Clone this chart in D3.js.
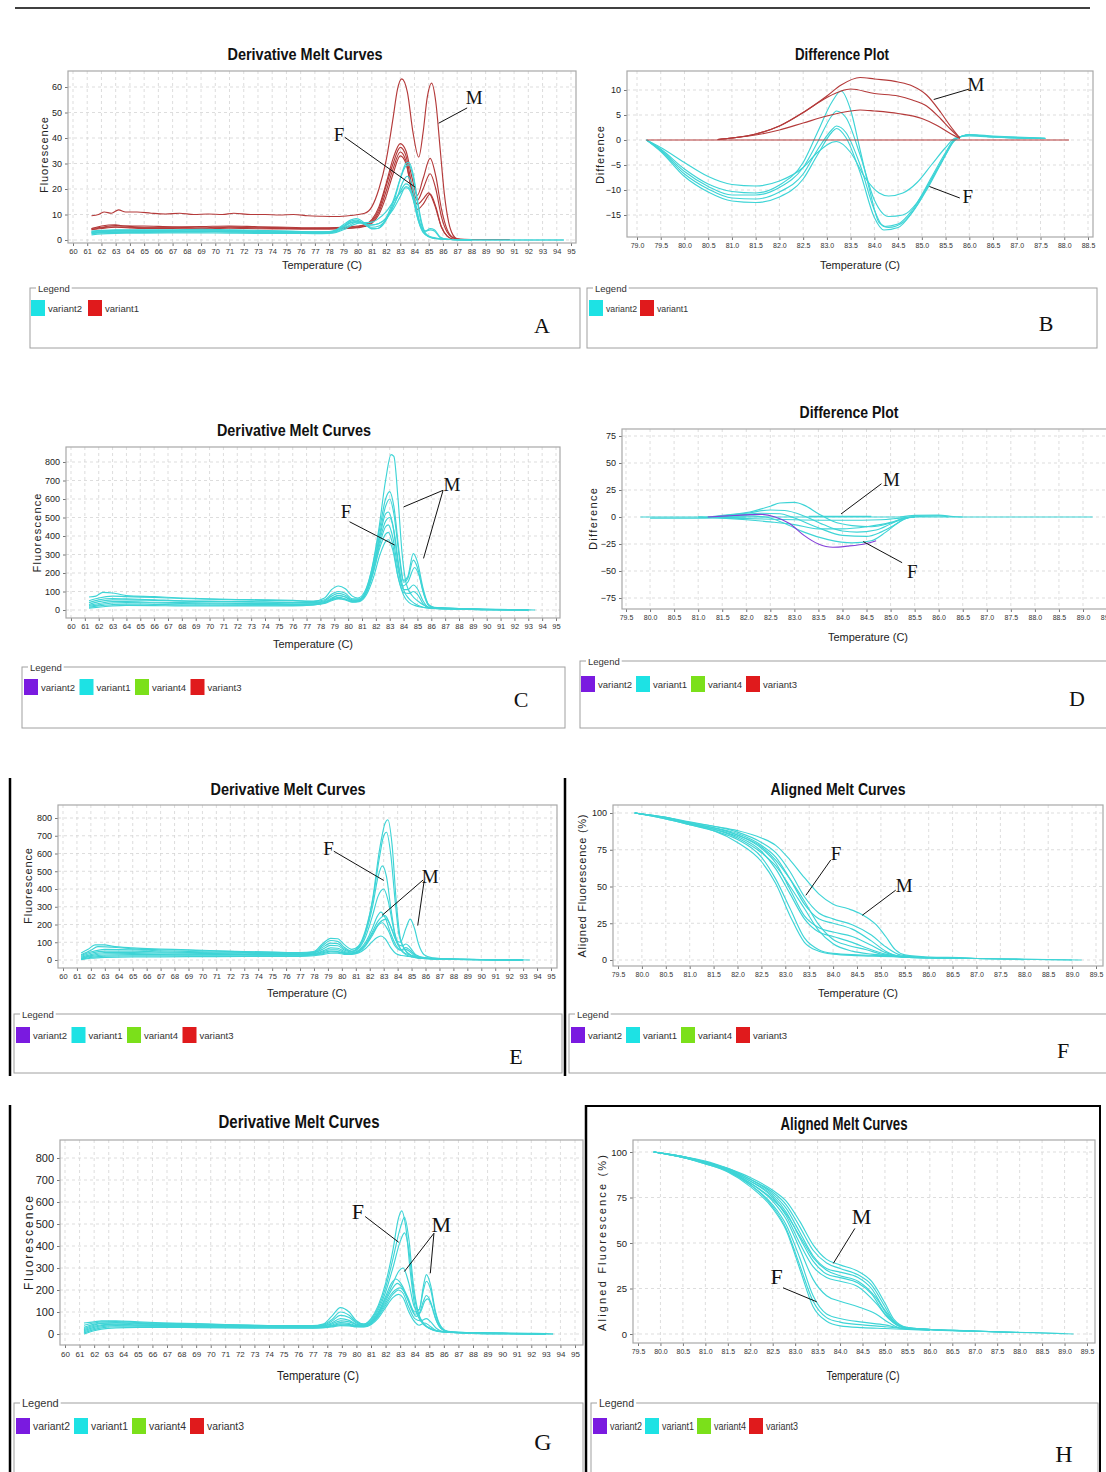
<!DOCTYPE html>
<html><head><meta charset="utf-8">
<script src="https://cdn.jsdelivr.net/npm/d3@7"></script>
<style>body{margin:0;background:#fff}svg{display:block}</style>
</head><body>
<svg id="c" width="1106" height="1472"></svg>
<script>
// ---------------- DATA ----------------
const derivTicks = d3.range(60, 96);
const tempTicksB = d3.range(0, 20).map(i => 79 + i * 0.5);
const tempTicks = d3.range(0, 21).map(i => 79.5 + i * 0.5);
const yTicksA = [0, 10, 20, 30, 40, 50, 60];
const yTicksB = [-15, -10, -5, 0, 5, 10];
const yTicksDeriv = [0, 100, 200, 300, 400, 500, 600, 700, 800];
const yTicksD = [-75, -50, -25, 0, 25, 50, 75];
const yTicksAligned = [0, 25, 50, 75, 100];
const legend2 = ['variant2', 'variant1'];
const legend4 = ['variant2', 'variant1', 'variant4', 'variant3'];

// Panel A – derivative melt curves
const aVariant1 = [
 [[61.3,9.5],[61.8,10],[62.2,11],[62.7,10.5],[63.2,11.8],[63.7,11],[64.5,11],[65.5,10.5],[66.5,10.2],[67.5,10.5],[68.5,10],[69.5,10.2],[70.5,10],[71.3,10.5],[72.5,10],[73.5,10],[74.5,9.8],[75.5,10],[76.5,9.5],[77.5,9.3],[78.5,9.2],[79.5,9.6],[80.5,10.5],[81,13],[81.5,20],[82,31],[82.5,48],[82.8,59],[83.1,63.2],[83.5,58],[83.9,42],[84.3,32.5],[84.6,42],[84.9,56],[85.2,61.5],[85.5,54],[85.8,36],[86.1,18],[86.4,7],[86.7,2],[87,0.5],[88,0.2],[90.7,0.2]],
 [[61.3,4.5],[62,5.5],[63,6],[63.5,5.5],[65,5.5],[67,5.2],[69,5.3],[71,5.5],[73,5.2],[75,5],[77,4.8],[79,5],[80,5.5],[80.5,6],[81,8],[81.5,13],[82,22],[82.5,32],[83,37.8],[83.4,35],[83.8,25],[84.2,17.5],[84.6,24],[85.1,32],[85.5,25],[85.9,12],[86.3,4],[86.7,1],[87.2,0.2]],
 [[61.3,4.5],[62,5],[63,5.7],[65,5],[67,5],[69,4.8],[71,5.2],[73,5],[75,4.8],[77,4.6],[79,4.8],[80,5.2],[80.5,6],[81,7.5],[81.5,12],[82,21],[82.5,30],[83,36.3],[83.4,33],[83.8,22],[84.2,15.5],[84.6,20],[85.1,26],[85.5,20],[85.9,9],[86.3,3],[86.7,0.8],[87.2,0.2]],
 [[61.3,4],[62,4.8],[63,5.2],[65,4.8],[67,4.8],[69,4.6],[71,5],[73,4.7],[75,4.5],[77,4.5],[79,4.6],[80,5],[80.5,5.5],[81,7],[81.5,11],[82,19],[82.5,28],[83,34.5],[83.4,31],[83.8,19],[84.2,12],[84.6,14],[85.1,18],[85.5,13],[85.9,5],[86.3,1.5],[86.7,0.3]],
 [[61.3,4],[62,4.5],[63,5],[65,4.5],[67,4.5],[69,4.3],[71,4.6],[73,4.4],[75,4.3],[77,4.2],[79,4.4],[80,4.8],[80.5,5.3],[81,6.5],[81.5,10],[82,17],[82.5,26],[83,33],[83.4,30],[83.8,20],[84.2,14],[84.6,16],[85,18.5],[85.4,14],[85.9,5],[86.3,1.5],[86.7,0.3]]
];
const aVariant2 = [
 [[61.3,3.5],[62,3.8],[63,4],[65,4],[67,4],[69,4.2],[71,4],[73,3.8],[75,3.5],[77,3.2],[78,3.3],[78.5,4],[79,6],[79.5,7.8],[79.9,8.4],[80.3,7.5],[80.7,5.5],[81,4.5],[81.4,4.5],[81.8,6],[82.2,10],[82.6,16],[83,24],[83.4,30],[83.6,30.5],[83.9,26],[84.2,16],[84.5,7],[84.8,2.5],[85.2,1],[85.7,0.5],[86.5,0.2],[88,0],[94.5,0]],
 [[61.3,3],[62,3.3],[63,3.5],[65,3.5],[67,3.6],[69,3.6],[71,3.5],[73,3.3],[75,3.2],[77,3],[78,3],[78.5,3.8],[79,5.5],[79.5,7.3],[79.9,7.8],[80.3,7],[80.7,5.3],[81,4.3],[81.4,4.5],[81.8,6.5],[82.2,11],[82.6,17],[83,24],[83.4,29],[83.6,29.5],[83.9,25],[84.2,15],[84.5,6],[84.8,2],[85.2,0.8],[86,0.3],[88,0],[94.5,0]],
 [[61.3,2.5],[62,2.8],[63,3],[65,3],[67,3.2],[69,3.2],[71,3.1],[73,3],[75,2.9],[77,2.8],[78,2.9],[78.5,3.5],[79,5],[79.5,6.7],[79.9,7.2],[80.3,6.6],[80.7,5.5],[81,5],[81.5,5.5],[82,8],[82.5,13],[83,19],[83.4,22],[83.6,21.5],[83.9,17],[84.2,10],[84.5,5],[84.8,3.5],[85.1,4],[85.4,3.5],[85.8,1],[86.3,0.3],[88,0]],
 [[61.3,2],[62,2.4],[63,2.6],[65,2.7],[67,2.8],[69,2.8],[71,2.7],[73,2.6],[75,2.6],[77,2.5],[78,2.6],[78.5,3],[79,4],[79.5,5.5],[80,6.5],[80.5,6.8],[81,7],[81.5,8.5],[82,11],[82.5,15],[83,18.5],[83.4,20.5],[83.6,20],[83.9,16],[84.2,9],[84.5,4.5],[84.8,3.5],[85.1,4.5],[85.4,4],[85.8,1.2],[86.3,0.3],[88,0]],
 [[61.3,3.2],[62,3.6],[63,3.8],[65,3.8],[67,3.8],[69,3.9],[71,3.8],[73,3.6],[75,3.4],[77,3.2],[78,3.2],[78.5,3.8],[79,5.2],[79.5,6.8],[80,7.2],[80.5,6.5],[81,6],[81.5,6.5],[82,8.5],[82.5,12],[83,17],[83.4,21],[83.7,20],[84,14],[84.3,7],[84.6,3],[85,1.5],[85.5,0.8],[86.5,0.2],[88,0]],
 [[61.3,2.8],[62,3],[63,3.2],[65,3.3],[67,3.3],[69,3.4],[71,3.3],[73,3.2],[75,3],[77,2.9],[78,2.9],[78.5,3.3],[79,4.5],[79.5,6],[79.9,7],[80.3,6.8],[80.8,5.8],[81.2,6],[81.8,7.5],[82.3,11],[82.8,17],[83.2,23],[83.5,25],[83.8,22],[84.1,14],[84.4,6],[84.8,2],[85.3,0.8],[86,0.3],[88,0]]
];

// Panel B – difference plot
const bVariant1 = [
 [[79.2,0],[88.1,0]],
 [[80.7,0.1],[81,0.4],[81.5,1.2],[82,2.8],[82.5,5.5],[83,8.8],[83.3,11],[83.7,12.5],[84,12.2],[84.5,11.6],[84.8,10.8],[85.1,9],[85.4,5.5],[85.6,2.8],[85.8,0.4]],
 [[80.7,0.1],[81,0.4],[81.5,1.2],[82,2.8],[82.5,5.5],[83,8.5],[83.3,9.8],[83.5,10.2],[84,9.3],[84.5,8.8],[84.8,8],[85.1,6.8],[85.4,4.2],[85.6,2.2],[85.8,0.4]],
 [[80.7,0.1],[81,0.4],[81.5,1],[82,2],[82.5,3.4],[83,4.8],[83.5,5.8],[83.7,6],[84,5.8],[84.5,5.3],[85,4.3],[85.3,3],[85.6,1.3],[85.8,0.3]]
];
const bVariant2 = [
 [[79.2,0],[79.5,-1.5],[80,-4.5],[80.5,-7.3],[81,-8.9],[81.5,-9.2],[82,-8.2],[82.5,-5.5],[82.8,-2.5],[83.2,-0.3],[83.5,-2.5],[83.8,-7.5],[84.1,-10.6],[84.3,-11.2],[84.6,-10.6],[84.9,-8.5],[85.2,-5],[85.5,-1.5],[85.7,0.4],[86,0.8],[86.5,0.6],[87,0.4],[87.6,0.3]],
 [[79.2,0],[79.5,-1.8],[80,-5.8],[80.5,-8.8],[81,-10.3],[81.5,-10.6],[82,-9],[82.5,-4.5],[82.8,1.5],[83.1,7.5],[83.3,9.8],[83.5,6],[83.7,-2],[83.9,-10],[84.1,-16.5],[84.3,-17.5],[84.6,-16.5],[84.9,-13],[85.2,-8],[85.5,-3],[85.7,0],[86,1.1],[86.5,0.8],[87.6,0.4]],
 [[79.2,0],[79.5,-2],[80,-6.3],[80.5,-9.3],[81,-11],[81.5,-11],[82,-9.5],[82.5,-5.5],[82.8,-0.5],[83.1,4.8],[83.2,5.8],[83.4,4.5],[83.7,-3],[84,-12],[84.3,-15.3],[84.6,-15],[84.9,-12.5],[85.2,-7.5],[85.5,-2.5],[85.7,0.2],[86,1],[86.5,0.7],[87.6,0.3]],
 [[79.2,0],[79.5,-2.1],[80,-6.8],[80.5,-9.8],[81,-11.6],[81.5,-11.8],[82,-10.4],[82.5,-6.8],[82.8,-2],[83.1,2],[83.2,2.8],[83.4,1.5],[83.7,-5],[84,-14],[84.2,-17.3],[84.5,-16.8],[84.8,-14],[85.1,-9.5],[85.4,-4.5],[85.7,0.2],[86,1],[86.5,0.6],[87.6,0.3]],
 [[79.2,0],[79.5,-2.3],[80,-7.3],[80.5,-10.4],[81,-12.2],[81.5,-12.5],[82,-11.4],[82.5,-7.8],[82.8,-3],[83.1,1.5],[83.2,2.3],[83.4,0.5],[83.7,-6.5],[84,-15.5],[84.2,-18],[84.5,-17.5],[84.8,-14.5],[85.1,-10],[85.4,-4.8],[85.7,0],[86,1],[86.5,0.6],[87.6,0.3]]
];

// Panel C – derivative melt curves
const cVariant1 = [
 [[61.3,70],[61.8,75],[62.3,95],[63,92],[63.5,85],[64,78],[66,72],[68,65],[70,60],[72,57],[74,55],[76,52],[77.5,48],[78.3,65],[78.8,110],[79.3,130],[79.8,115],[80.3,75],[80.7,65],[81.2,100],[81.7,220],[82.2,430],[82.7,700],[83.1,840],[83.3,830],[83.6,600],[83.9,300],[84.2,140],[84.6,80],[85,50],[85.5,25],[86,12],[87,10],[88,8],[89,6],[90,3],[92,2],[93.5,0]],
 [[61.3,50],[62,65],[63,75],[64,72],[66,68],[68,62],[70,58],[72,55],[74,52],[76,50],[77.5,45],[78.3,55],[78.8,85],[79.3,100],[79.8,90],[80.3,60],[80.8,60],[81.3,110],[81.8,250],[82.3,450],[82.7,600],[83,640],[83.3,560],[83.7,300],[84,160],[84.3,180],[84.7,305],[85,260],[85.4,120],[85.8,30],[86.2,15],[87,12],[88,8],[90,3],[93,1]],
 [[61.3,40],[62,55],[63,62],[64,60],[66,55],[68,50],[70,48],[72,46],[74,44],[76,42],[77.5,40],[78.3,50],[78.8,75],[79.3,90],[79.8,80],[80.3,55],[80.8,55],[81.3,100],[81.8,230],[82.3,420],[82.7,560],[83,600],[83.3,520],[83.7,280],[84,150],[84.3,170],[84.7,270],[85,230],[85.4,100],[85.8,25],[86.3,12],[88,7],[90,3],[93,1]],
 [[61.3,30],[62,45],[63,55],[64,55],[66,52],[68,48],[70,45],[72,43],[74,42],[76,40],[77.5,38],[78.3,45],[78.8,65],[79.3,78],[79.8,70],[80.3,50],[80.8,50],[81.3,95],[81.8,220],[82.3,400],[82.7,520],[82.9,530],[83.2,470],[83.6,250],[83.9,130],[84.3,150],[84.8,230],[85.1,190],[85.5,80],[85.9,20],[86.4,10],[88,6],[90,2],[93,1]],
 [[61.3,25],[62,35],[63,45],[64,45],[66,42],[68,40],[70,38],[72,36],[74,35],[76,34],[77.5,33],[78.3,40],[78.8,58],[79.3,68],[79.8,60],[80.3,45],[80.8,48],[81.3,90],[81.8,200],[82.3,360],[82.7,450],[82.9,460],[83.2,400],[83.6,220],[84,110],[84.3,110],[84.7,135],[85,115],[85.4,50],[85.8,15],[86.5,8],[88,5],[90,2],[93,1]],
 [[61.3,15],[62,22],[63,30],[64,32],[66,30],[68,28],[70,27],[72,26],[74,26],[76,25],[77.5,28],[78.3,35],[78.8,50],[79.3,60],[79.8,55],[80.3,42],[80.8,45],[81.3,80],[81.8,170],[82.3,300],[82.7,370],[82.9,380],[83.2,330],[83.6,180],[84,95],[84.4,90],[84.7,100],[85,85],[85.4,35],[85.8,12],[86.5,7],[88,4],[90,2],[93,0]],
 [[61.3,20],[62,28],[63,38],[64,40],[66,38],[68,35],[70,33],[72,31],[74,30],[76,30],[77.5,32],[78.3,40],[78.8,55],[79.3,62],[79.8,57],[80.3,45],[80.8,50],[81.3,95],[81.8,210],[82.3,380],[82.7,480],[83,500],[83.3,430],[83.7,220],[84,110],[84.4,60],[84.8,35],[85.2,20],[85.8,10],[87,7],[89,4],[91,2],[93,0]],
 [[61.3,10],[62,15],[63,22],[64,25],[66,24],[68,22],[70,22],[72,22],[74,22],[76,22],[77.5,28],[78.3,38],[78.8,60],[79.3,80],[79.8,70],[80.3,50],[80.8,55],[81.3,100],[81.8,200],[82.3,340],[82.7,410],[82.9,420],[83.2,360],[83.6,180],[84,80],[84.4,40],[84.8,25],[85.3,15],[86,10],[88,6],[90,2],[93,0]]
];

// Panel D – difference plot
const dVariant1 = [
 [[79.8,0],[89.2,0]],
 [[80,-1],[81,-1],[81.6,-0.6],[82,0]],
 [[81.2,0],[81.5,1.5],[82,4],[82.5,10],[82.7,13],[83,13.5],[83.2,11],[83.5,3],[83.8,-4],[84.2,-8],[84.6,-9],[85,-5.5],[85.3,-1],[85.6,0.5],[86,1],[86.2,0]],
 [[81.3,0],[81.7,2],[82,3.5],[82.5,6.5],[82.8,6],[83.2,1],[83.6,-7],[84,-13],[84.3,-14],[84.7,-12],[85,-6.5],[85.3,-1],[85.5,0]],
 [[81.3,0],[81.8,1.5],[82.3,3.5],[82.7,3],[83,-1],[83.5,-10],[84,-17],[84.5,-18],[84.8,-14],[85.1,-7],[85.3,-1.5],[85.5,0]],
 [[81.5,0],[82,1],[82.4,0],[82.8,-6],[83.2,-14],[83.7,-21],[84.2,-24],[84.6,-22],[84.9,-14],[85.2,-4],[85.4,0]],
 [[81,0],[81.5,-1],[82,-2.5],[82.5,-4.5],[83,-7],[83.5,-11],[84,-11],[84.5,-9],[85,-5],[85.3,-1],[85.5,0]],
 [[81,0],[82,-1.5],[83,-2.5],[84,-3],[84.8,-2.5],[85.2,-1],[85.5,0]],
 [[83.3,0.6],[84.6,0.6]],
 [[85.2,0],[85.5,1.5],[86,1.8],[86.3,0.5],[86.5,0]]
];
const dVariant2 = [
 [[81.2,0],[81.6,1],[82,2],[82.3,2.5],[82.6,0],[82.9,-6],[83.2,-17],[83.5,-25],[83.8,-28],[84.1,-27],[84.5,-24.5],[84.7,-22]]
];

// Panel E – derivative melt curves
const eVariant1 = [
 [[61.3,40],[61.8,60],[62.3,85],[63,85],[63.5,78],[65,68],[67,62],[69,58],[71,52],[73,48],[75,45],[77,42],[78,48],[78.6,90],[79.2,122],[79.7,120],[80.2,85],[80.7,60],[81.2,80],[81.7,170],[82.2,340],[82.7,620],[83.1,770],[83.3,790],[83.6,650],[83.9,330],[84.2,120],[84.6,50],[85,25],[85.5,12],[86.5,8],[88,4],[90,3],[92,2],[93.5,0]],
 [[61.3,30],[62,55],[62.5,75],[63.5,72],[65,63],[67,58],[69,55],[71,50],[73,46],[75,43],[77,40],[78,45],[78.6,80],[79.2,110],[79.7,105],[80.2,70],[80.7,50],[81.2,75],[81.7,160],[82.2,330],[82.7,580],[83,700],[83.2,720],[83.5,600],[83.8,350],[84.1,140],[84.5,60],[85,25],[85.5,12],[87,6],[90,2],[93,0]],
 [[61.3,25],[62,45],[63,60],[65,58],[67,52],[69,48],[71,45],[73,42],[75,40],[77,38],[78,42],[78.6,70],[79.2,95],[79.7,92],[80.2,62],[80.7,48],[81.2,70],[81.7,150],[82.2,300],[82.6,470],[82.9,530],[83.2,470],[83.5,300],[83.8,150],[84.2,60],[84.6,30],[85.2,15],[86,8],[88,4],[91,2],[93,0]],
 [[61.3,20],[62,38],[63,50],[65,50],[67,46],[69,43],[71,40],[73,38],[75,36],[77,35],[78,40],[78.6,60],[79.2,82],[79.7,80],[80.2,55],[80.7,45],[81.2,65],[81.7,130],[82.2,250],[82.6,360],[83,400],[83.3,340],[83.7,180],[84,90],[84.3,80],[84.6,90],[84.9,70],[85.3,30],[86,12],[88,5],[91,2],[93,0]],
 [[61.3,15],[62,30],[63,42],[65,42],[67,40],[69,38],[71,36],[73,34],[75,33],[77,32],[78,36],[78.6,50],[79.2,68],[79.7,66],[80.2,48],[80.7,40],[81.2,55],[81.7,100],[82.2,180],[82.5,240],[82.8,270],[83.1,240],[83.5,150],[83.9,80],[84.3,55],[84.6,60],[84.9,45],[85.3,20],[86,10],[88,4],[91,1],[93,0]],
 [[61.3,10],[62,25],[63,35],[65,36],[67,34],[69,33],[71,32],[73,31],[75,30],[77,30],[78,33],[78.6,45],[79.2,58],[79.7,57],[80.2,42],[80.7,38],[81.2,50],[81.7,90],[82.2,160],[82.6,220],[83.1,250],[83.5,190],[83.9,110],[84.2,100],[84.6,180],[84.9,230],[85.2,180],[85.5,90],[85.9,30],[86.5,12],[88,5],[91,1],[93,0]],
 [[61.3,8],[62,20],[63,28],[65,30],[67,30],[69,29],[71,28],[73,28],[75,27],[77,27],[78,30],[78.6,40],[79.2,50],[79.7,48],[80.2,38],[80.7,35],[81.2,48],[81.7,85],[82.2,150],[82.7,210],[83.2,230],[83.6,170],[84,90],[84.4,45],[84.8,30],[85.3,20],[86,10],[88,4],[91,1],[93,0]],
 [[61.3,5],[62,15],[63,22],[65,24],[67,24],[69,24],[71,24],[73,24],[75,24],[77,24],[78,28],[78.6,35],[79.2,45],[79.7,44],[80.2,36],[80.7,34],[81.2,45],[81.7,80],[82.2,140],[82.6,195],[82.9,210],[83.3,170],[83.8,80],[84.2,55],[84.6,70],[84.9,55],[85.3,25],[86,10],[88,3],[91,1],[93,0]],
 [[61.3,2],[62,10],[63,15],[65,18],[67,18],[69,19],[71,19],[73,20],[75,20],[77,20],[78,24],[78.6,30],[79.2,38],[79.7,38],[80.2,32],[80.7,32],[81.2,40],[81.7,65],[82.2,105],[82.5,125],[82.8,135],[83.1,120],[83.5,70],[83.9,35],[84.3,25],[84.8,20],[85.5,12],[86.5,6],[88,3],[91,1],[93,0]]
];

// Panel F – aligned melt curves
const fVariant1 = [
 [[79.85,100],[80.5,97],[81,94],[81.5,91],[82,88],[82.5,83],[82.8,78],[83.1,68],[83.4,56],[83.7,45],[84,38],[84.3,35],[84.6,31],[84.9,24],[85.1,16],[85.3,7],[85.5,3.5],[86,2],[86.8,1.5],[87,1],[88,0.5],[89.2,0]],
 [[79.85,100],[80.5,97],[81,93.5],[81.5,91],[82,87],[82.5,80],[82.8,73],[83.1,60],[83.4,43],[83.7,32],[84,28],[84.4,24],[84.8,17],[85.1,9],[85.4,3.5],[86,1.5],[87,1],[88,0.5],[89,0]],
 [[79.85,100],[80.5,97],[81,93],[81.5,90],[82,86],[82.5,78],[82.8,70],[83.1,55],[83.4,38],[83.7,28],[84,25],[84.4,21],[84.8,13],[85.1,6],[85.4,2.5],[86,1.5],[87,1],[88,0.3]],
 [[79.85,100],[80.5,96.5],[81,93],[81.5,90],[82,85],[82.5,76],[82.8,66],[83.1,48],[83.4,30],[83.7,22],[84,19],[84.4,16],[84.8,10],[85.1,5],[85.4,2.5],[86,1.5],[87,1]],
 [[79.85,100],[80.5,96.5],[81,92.5],[81.5,89],[82,84],[82.5,74],[82.8,62],[83.1,45],[83.4,28],[83.7,19],[84,16],[84.4,12],[84.8,7],[85.1,4],[85.5,2],[86,1.5]],
 [[79.85,100],[80.5,96],[81,92],[81.5,88],[82,82],[82.5,70],[82.8,55],[83.1,35],[83.4,15],[83.7,7],[84,4.5],[84.5,3.5],[85,3],[85.5,2],[86.5,1]],
 [[79.85,100],[80.5,96],[81,92],[81.5,88],[82,80],[82.5,67],[82.8,52],[83.1,30],[83.4,12],[83.7,6],[84,4],[84.5,3],[85,2.5],[85.5,2]],
 [[79.85,100],[80.5,96.5],[81,92.5],[81.5,89],[82,83],[82.5,73],[82.8,64],[83.1,50],[83.4,35],[83.7,20],[84,11],[84.4,6],[84.8,4],[85.2,3],[85.6,2]],
 [[79.85,100],[80.5,96.5],[81,93],[81.5,90],[82,85],[82.5,77],[82.8,68],[83.1,55],[83.4,40],[83.7,24],[84,14],[84.3,10],[84.7,7],[85,4],[85.4,2.5],[86,1.5]]
];

// Panel G – derivative melt curves
const gVariant1 = [
 [[61.3,50],[62,55],[62.5,60],[63.5,60],[65,55],[67,50],[69,47],[71,43],[73,40],[75,38],[77,38],[77.7,45],[78.3,80],[78.9,120],[79.5,100],[80,60],[80.5,45],[81,70],[81.5,130],[82,230],[82.5,380],[82.9,530],[83.1,560],[83.4,480],[83.7,280],[84,130],[84.4,60],[85,25],[85.7,12],[87,8],[89,4],[91,3],[93,2],[93.5,0]],
 [[61.3,40],[62,50],[62.5,55],[63.5,57],[65,52],[67,48],[69,45],[71,42],[73,39],[75,37],[77,37],[77.7,42],[78.3,65],[78.9,100],[79.5,85],[80,55],[80.5,45],[81,65],[81.5,120],[82,210],[82.5,340],[83,480],[83.3,530],[83.6,430],[83.9,230],[84.2,110],[84.6,50],[85.2,22],[86,10],[88,6],[91,3],[93.5,0]],
 [[61.3,30],[62,45],[62.5,50],[63.5,52],[65,48],[67,45],[69,42],[71,40],[73,37],[75,35],[77,35],[77.7,40],[78.3,58],[78.9,85],[79.5,75],[80,50],[80.5,42],[81,60],[81.5,110],[82,190],[82.5,300],[83,420],[83.3,460],[83.6,380],[83.9,200],[84.2,100],[84.6,45],[85.2,20],[86,9],[88,5],[91,2],[93,0]],
 [[61.3,25],[62,40],[62.5,48],[63.5,50],[65,46],[67,43],[69,40],[71,38],[73,36],[75,34],[77,34],[77.7,38],[78.3,50],[78.9,70],[79.5,62],[80,45],[80.5,40],[81,55],[81.5,95],[82,160],[82.5,230],[82.9,285],[83.2,300],[83.6,230],[84,120],[84.3,110],[84.6,220],[84.8,270],[85.1,220],[85.4,110],[85.8,35],[86.3,12],[88,5],[91,2],[93,0]],
 [[61.3,20],[62,35],[62.5,42],[63.5,45],[65,42],[67,40],[69,38],[71,36],[73,34],[75,33],[77,32],[77.7,36],[78.3,45],[78.9,60],[79.5,55],[80,42],[80.5,38],[81,55],[81.5,100],[82,170],[82.4,230],[82.7,250],[83,235],[83.5,170],[84,100],[84.3,110],[84.6,200],[84.8,240],[85.1,200],[85.4,100],[85.8,30],[86.3,10],[88,4],[91,2],[93,0]],
 [[61.3,15],[62,30],[62.5,38],[63.5,42],[65,40],[67,38],[69,36],[71,34],[73,32],[75,31],[77,30],[77.7,33],[78.3,40],[78.9,52],[79.5,48],[80,38],[80.5,36],[81,50],[81.5,90],[82,150],[82.5,210],[82.8,230],[83.1,215],[83.5,160],[84,90],[84.3,95],[84.6,150],[84.8,175],[85.1,145],[85.4,75],[85.8,25],[86.3,10],[88,4],[91,1],[93,0]],
 [[61.3,10],[62,25],[62.5,33],[63.5,38],[65,37],[67,35],[69,34],[71,32],[73,31],[75,30],[77,29],[77.7,31],[78.3,37],[78.9,46],[79.5,44],[80,36],[80.5,35],[81,48],[81.5,85],[82,140],[82.5,190],[83,210],[83.3,190],[83.7,130],[84.1,80],[84.4,100],[84.7,150],[84.9,160],[85.2,120],[85.5,60],[85.9,20],[86.5,8],[88,3],[91,1],[93,0]],
 [[61.3,5],[62,20],[62.5,28],[63.5,33],[65,33],[67,32],[69,31],[71,30],[73,29],[75,28],[77,28],[77.7,30],[78.3,35],[78.9,42],[79.5,40],[80,34],[80.5,33],[81,45],[81.5,80],[82,130],[82.5,180],[82.9,200],[83.2,185],[83.6,120],[84,70],[84.4,60],[84.8,70],[85.1,55],[85.5,25],[86,10],[88,3],[91,1],[93,0]],
 [[61.3,0],[62,15],[62.5,22],[63.5,28],[65,30],[67,30],[69,29],[71,28],[73,27],[75,26],[77,26],[77.7,28],[78.3,32],[78.9,38],[79.5,37],[80,32],[80.5,32],[81,42],[81.5,72],[82,120],[82.5,165],[82.9,180],[83.2,165],[83.6,100],[84,55],[84.3,40],[84.7,50],[85,38],[85.4,18],[86,8],[88,3],[91,1],[93,0]]
];

// Panel H – aligned melt curves
const hVariant1 = [
 [[79.85,100],[80.5,97.5],[81,95],[81.5,91],[82,86],[82.5,79],[82.8,73],[83.1,62],[83.4,49],[83.7,41],[84,38],[84.4,34.5],[84.7,29],[85,17],[85.2,8],[85.5,3.5],[86,2.5],[86.9,1.8],[87.5,1.2],[88.3,0.8],[89.2,0]],
 [[79.85,100],[80.5,97.5],[81,94.5],[81.5,91],[82,85],[82.5,78],[82.8,71],[83.1,59],[83.4,46],[83.7,39],[84,36],[84.4,32.5],[84.7,27],[85,15],[85.2,7],[85.5,3],[86,2.2],[87,1.5],[88,0.8],[89,0.2]],
 [[79.85,100],[80.5,97.5],[81,94.5],[81.5,90.5],[82,85],[82.5,77],[82.8,69],[83.1,56],[83.4,43],[83.7,36],[84,34],[84.4,31],[84.7,25],[85,13],[85.3,5],[85.6,3],[86.5,2],[88,0.8]],
 [[79.85,100],[80.5,97.5],[81,94.5],[81.5,90.5],[82,84],[82.5,76],[82.8,67],[83.1,53],[83.4,40],[83.7,33],[84,31],[84.4,28],[84.7,22],[85,11],[85.3,4.5],[85.6,3],[86.5,2],[88,0.8]],
 [[79.85,100],[80.5,97.5],[81,94],[81.5,90],[82,84],[82.5,75],[82.8,65],[83.1,50],[83.4,37],[83.7,31],[84,29],[84.4,26],[84.8,17],[85.1,8],[85.4,3.5],[86,2.5],[87,1.5]],
 [[79.85,100],[80.5,97],[81,94],[81.5,90],[82,83],[82.5,73],[82.8,63],[83.1,47],[83.4,30],[83.7,21],[84,18],[84.4,15],[84.8,11],[85.1,6],[85.4,3],[86,2.5],[87,1.5]],
 [[79.85,100],[80.5,97],[81,94],[81.5,89.5],[82,82],[82.5,71],[82.8,60],[83.1,42],[83.4,21],[83.7,11],[84,8.5],[84.5,6.5],[85,5],[85.4,3],[86,2.5]],
 [[79.85,100],[80.5,97],[81,93.5],[81.5,89.5],[82,82],[82.5,70],[82.8,58],[83.1,38],[83.4,18],[83.7,9],[84,6.5],[84.5,5],[85,4],[85.4,3],[86,2.2]],
 [[79.85,100],[80.5,97],[81,93.5],[81.5,89],[82,81],[82.5,69],[82.8,57],[83.1,36],[83.4,15],[83.7,7],[84,4.5],[84.5,3.5],[85,3],[85.5,2.5],[86,2]],
 [[79.85,100],[80.5,97],[81,94],[81.5,90],[82,83],[82.5,74],[82.8,66],[83.1,54],[83.4,42],[83.7,35],[84,32],[84.4,29],[84.8,20],[85.1,9],[85.4,4],[86,2.5]]
];

// Annotations (label position and pointer lines in data units)
const notesA = [{t:'M',x:88.2,y:55.7,lines:[[87.7,51.8,85.7,45.8]]},{t:'F',x:78.7,y:41.5,lines:[[79.1,40.3,84.05,20.7]]}];
const notesB = [{t:'M',x:86.14,y:11.1,lines:[[86.0,10.2,85.25,8.1]]},{t:'F',x:85.97,y:-11.3,lines:[[85.8,-11.6,85.16,-9.3]]}];
const notesC = [{t:'M',x:87.5,y:680,lines:[[86.85,647,84.0,557],[86.85,647,85.44,279]]},{t:'F',x:79.84,y:530,lines:[[80.1,477,83.36,351]]}];
const notesD = [{t:'M',x:85.02,y:34.9,lines:[[84.81,30.8,83.97,2.8]]},{t:'F',x:85.45,y:-50,lines:[[85.24,-42.3,84.43,-22.7]]}];
const notesE = [{t:'F',x:79.04,y:627,lines:[[79.42,613,83.01,448]]},{t:'M',x:86.34,y:470,lines:[[85.83,451,82.88,251],[85.9,445,85.44,194]]}];
const notesF = [{t:'F',x:84.06,y:72.6,lines:[[83.95,68,83.43,44]]},{t:'M',x:85.49,y:50.9,lines:[[85.31,47.5,84.61,30.4]]}];
const notesG = [{t:'F',x:80.1,y:557,lines:[[80.6,534,82.9,417]]},{t:'M',x:85.83,y:496,lines:[[85.32,458,83.29,284],[85.32,458,85.07,276]]}];
const notesH = [{t:'M',x:84.48,y:64.4,lines:[[84.33,58,83.85,38.8]]},{t:'F',x:82.59,y:31.4,lines:[[82.73,25.4,83.48,17.7]]}];

// ---------------- STYLE / LAYOUT ----------------
const CYAN = '#3ed4d6', RED = '#b43a3a', PURPLE = '#8440d8';
const SW = {variant1:'#e01a1c', variant2:'#1de2e4', variant3:'#e01a1c', variant4:'#7be01a'};
const SW4 = {variant2:'#7a1ae0', variant1:'#1de2e4', variant4:'#7be01a', variant3:'#e01a1c'};
const SANS = "'Liberation Sans', Arial, sans-serif";
const NARROW = "'Liberation Sans Narrow', 'Arial Narrow', 'Liberation Sans', sans-serif";
const SERIF = "'Liberation Serif', 'Times New Roman', serif";

const panels = [
 {id:'A', title:'Derivative Melt Curves', tt:[305,60,155,16], frame:[68,71,576,243], xa:[60,73,95,571], ya:[0,240,60,87],
  xt:derivTicks, yt:yTicksA, xf:d3.format('d'), xl:[322,269,'Temperature (C)',80,11], yl:[44,155,'Fluorescence',76,11], fs:[7.5,9], ns:19,
  series:[[aVariant1,RED],[aVariant2,CYAN]], notes:notesA,
  leg:{box:[30,288,580,348], x0:31, y:300, pitch:57, items:legend2, colors:SW, fs:9.5, tl:34, letter:'A', lp:[542,333], ls:22}},
 {id:'B', title:'Difference Plot', tt:[842,60,94,16], frame:[627,71,1093,237], xa:[79,637,88.5,1088], ya:[0,140,10,90],
  xt:tempTicksB, yt:yTicksB, xf:d3.format('.1f'), xl:[860,269,'Temperature (C)',80,11], yl:[600,155,'Difference',58,11], fs:[7,9], ns:19,
  series:[[bVariant2,CYAN],[bVariant1,RED]], notes:notesB,
  leg:{box:[587,288,1097,348], x0:589, y:300, pitch:51, items:legend2, colors:SW, fs:9.5, tl:31, letter:'B', lp:[1046,331], ls:22}},
 {id:'C', title:'Derivative Melt Curves', tt:[294,436,154,16], frame:[66,447,560,618], xa:[60,71,95,556], ya:[0,610,800,462],
  xt:derivTicks, yt:yTicksDeriv, xf:d3.format('d'), xl:[313,648,'Temperature (C)',80,11], yl:[37,533,'Fluorescence',79,11], fs:[7.5,9], ns:19,
  series:[[cVariant1,CYAN]], notes:notesC,
  leg:{box:[22,667,565,728], x0:24, y:679, pitch:55.5, items:legend4, colors:SW4, fs:9.5, tl:34, letter:'C', lp:[521,707], ls:22}},
 {id:'D', title:'Difference Plot', tt:[849,418,99,16], frame:[622,429,1125,609], xa:[79.5,626,89,1083], ya:[0,517,75,436],
  xt:tempTicks, yt:yTicksD, xf:d3.format('.1f'), xl:[868,641,'Temperature (C)',80,11], yl:[593,519,'Difference',62,11], fs:[7,9], ns:19,
  series:[[dVariant1,CYAN],[dVariant2,PURPLE]], notes:notesD,
  leg:{box:[580,661,1115,728], x0:581, y:676, pitch:55, items:legend4, colors:SW4, fs:9.5, tl:34, letter:'D', lp:[1077,706], ls:22}},
 {id:'E', title:'Derivative Melt Curves', tt:[288,795,155,16], frame:[58,805,557,968], xa:[60,63,95,551], ya:[0,960,800,818],
  xt:derivTicks, yt:yTicksDeriv, xf:d3.format('d'), xl:[307,997,'Temperature (C)',80,11], yl:[28,886,'Fluorescence',76,11], fs:[7.5,9], ns:19,
  series:[[eVariant1,CYAN]], notes:notesE,
  leg:{box:[14,1014,562,1073], x0:16, y:1027, pitch:55.5, items:legend4, colors:SW4, fs:9.5, tl:34, letter:'E', lp:[516,1064], ls:22}},
 {id:'F', title:'Aligned Melt Curves', tt:[838,795,135,16], frame:[613,805,1103,966], xa:[79.5,618,89.5,1096], ya:[0,960,100,813],
  xt:tempTicks, yt:yTicksAligned, xf:d3.format('.1f'), xl:[858,997,'Temperature (C)',80,11], yl:[582,886,'Aligned Fluorescence (%)',143,11], fs:[7,9], ns:19,
  series:[[fVariant1,CYAN]], notes:notesF,
  leg:{box:[569,1014,1115,1073], x0:571, y:1027, pitch:55, items:legend4, colors:SW4, fs:9.5, tl:34, letter:'F', lp:[1063,1058], ls:22}},
 {id:'G', title:'Derivative Melt Curves', tt:[299,1128,161,19], frame:[60,1140,583,1345], xa:[60,65,95,575], ya:[0,1334,800,1158],
  xt:derivTicks, yt:yTicksDeriv, xf:d3.format('d'), xl:[318,1380,'Temperature (C)',82,13], yl:[29,1243,'Fluorescence',94,12], fs:[8,11], ns:22,
  series:[[gVariant1,CYAN]], notes:notesG,
  leg:{box:[14,1403,583,1490], x0:16, y:1418, pitch:58, items:legend4, colors:SW4, fs:11, tl:37, letter:'G', lp:[543,1450], ls:24}},
 {id:'H', title:'Aligned Melt Curves', tt:[844,1130,127,19], frame:[633,1140,1095,1343], xa:[79.5,638,89.5,1087], ya:[0,1334,100,1152],
  xt:tempTicks, yt:yTicksAligned, xf:d3.format('.1f'), xl:[863,1380,'Temperature (C)',73,13], yl:[602,1243,'Aligned Fluorescence (%)',176,11], fs:[7,9.5], ns:22,
  series:[[hVariant1,CYAN]], notes:notesH,
  leg:{box:[591,1403,1098,1490], x0:593, y:1418, pitch:52, items:legend4, colors:SW4, fs:10.5, tl:32, letter:'H', lp:[1064,1462], ls:24}}
];

// ---------------- DRAW ----------------
const svg = d3.select('#c');
svg.append('rect').attr('width',1106).attr('height',1472).attr('fill','#fff');

function drawPanel(p) {
  const g = svg.append('g');
  const [fx0, fy0, fx1, fy1] = p.frame;
  const x = d3.scaleLinear().domain([p.xa[0], p.xa[2]]).range([p.xa[1], p.xa[3]]);
  const y = d3.scaleLinear().domain([p.ya[0], p.ya[2]]).range([p.ya[1], p.ya[3]]);

  g.append('text').attr('x', p.tt[0]).attr('y', p.tt[1]).attr('text-anchor','middle')
    .attr('font-family', SANS).attr('font-weight','bold').attr('font-size', p.tt[3])
    .attr('textLength', p.tt[2]).attr('lengthAdjust','spacingAndGlyphs').attr('fill','#111').text(p.title);

  const grid = g.append('g').attr('stroke','#d4d4d4').attr('stroke-dasharray','3,3').attr('stroke-width',0.8);
  p.xt.forEach(t => grid.append('line').attr('x1', x(t)).attr('x2', x(t)).attr('y1', fy0).attr('y2', fy1));
  p.yt.forEach(t => grid.append('line').attr('x1', fx0).attr('x2', fx1).attr('y1', y(t)).attr('y2', y(t)));

  const ax = g.append('g').attr('transform', `translate(0,${fy1})`)
    .call(d3.axisBottom(x).tickValues(p.xt).tickSize(3).tickPadding(3).tickFormat(p.xf));
  ax.select('.domain').remove();
  ax.selectAll('line').attr('stroke','#777');
  ax.selectAll('text').attr('font-family', NARROW).attr('font-size', p.fs[0]).attr('fill','#333');
  const ay = g.append('g').attr('transform', `translate(${fx0},0)`)
    .call(d3.axisLeft(y).tickValues(p.yt).tickSize(3).tickPadding(3));
  ay.select('.domain').remove();
  ay.selectAll('line').attr('stroke','#777');
  ay.selectAll('text').attr('font-family', SANS).attr('font-size', p.fs[1]).attr('fill','#222');

  const cid = 'clip' + p.id;
  g.append('clipPath').attr('id', cid).append('rect')
    .attr('x', fx0).attr('y', fy0).attr('width', fx1 - fx0).attr('height', fy1 - fy0);
  const line = d3.line().x(d => x(d[0])).y(d => y(d[1])).curve(d3.curveMonotoneX);
  const cg = g.append('g').attr('clip-path', `url(#${cid})`);
  p.series.forEach(([arr, col]) => {
    arr.forEach(s => cg.append('path').attr('d', line(s)).attr('fill','none')
      .attr('stroke', col).attr('stroke-width', 1.15).attr('stroke-linejoin','round'));
  });

  g.append('rect').attr('x', fx0).attr('y', fy0).attr('width', fx1 - fx0).attr('height', fy1 - fy0)
    .attr('fill','none').attr('stroke','#a8a8a8').attr('stroke-width',1.2);

  g.append('text').attr('x', p.xl[0]).attr('y', p.xl[1]).attr('text-anchor','middle')
    .attr('font-family', SANS).attr('font-size', p.xl[4]).attr('textLength', p.xl[3])
    .attr('lengthAdjust','spacingAndGlyphs').attr('fill','#222').text(p.xl[2]);
  g.append('text').attr('transform', `translate(${p.yl[0]},${p.yl[1]}) rotate(-90)`)
    .attr('text-anchor','middle').attr('dominant-baseline','central')
    .attr('font-family', SANS).attr('font-size', p.yl[4]).attr('textLength', p.yl[3])
    .attr('lengthAdjust','spacing').attr('fill','#222').text(p.yl[2]);

  p.notes.forEach(n => {
    n.lines.forEach(l => g.append('line').attr('x1', x(l[0])).attr('y1', y(l[1]))
      .attr('x2', x(l[2])).attr('y2', y(l[3])).attr('stroke','#111').attr('stroke-width',1));
    g.append('text').attr('x', x(n.x)).attr('y', y(n.y)).attr('text-anchor','middle')
      .attr('dominant-baseline','central').attr('font-family', SERIF).attr('font-size', p.ns)
      .attr('fill','#111').text(n.t);
  });

  const L = p.leg;
  const [bx0, by0, bx1, by1] = L.box;
  const lg = svg.append('g');
  lg.append('rect').attr('x', bx0).attr('y', by0).attr('width', bx1 - bx0).attr('height', by1 - by0)
    .attr('fill','none').attr('stroke','#a0a0a0').attr('stroke-width',1);
  const lt = lg.append('text').attr('x', bx0 + 8).attr('y', by0 + 3.5).attr('font-family', SANS)
    .attr('font-size', L.fs).attr('fill','#333').text('Legend');
  const bb = lt.node().getBBox();
  lg.insert('rect', 'text').attr('x', bb.x - 2).attr('y', by0 - 2).attr('width', bb.width + 4).attr('height', 4).attr('fill','#fff');
  L.items.forEach((name, i) => {
    const sx = L.x0 + i * L.pitch;
    lg.append('rect').attr('x', sx).attr('y', L.y).attr('width', 14).attr('height', 16)
      .attr('fill', L.colors[name]);
    lg.append('text').attr('x', sx + 17).attr('y', L.y + 11.5).attr('font-family', SANS)
      .attr('font-size', L.fs).attr('textLength', L.tl).attr('lengthAdjust','spacingAndGlyphs')
      .attr('fill','#333').text(name);
  });
  lg.append('text').attr('x', L.lp[0]).attr('y', L.lp[1]).attr('text-anchor','middle')
    .attr('font-family', SERIF).attr('font-size', L.ls).attr('fill','#111').text(L.letter);
}

panels.forEach(drawPanel);

const bd = svg.append('g').attr('stroke','#000');
bd.append('line').attr('x1',15).attr('x2',1090).attr('y1',8).attr('y2',8).attr('stroke-width',1.5);
bd.append('line').attr('x1',10).attr('x2',10).attr('y1',778).attr('y2',1076).attr('stroke-width',2.5);
bd.append('line').attr('x1',565).attr('x2',565).attr('y1',778).attr('y2',1076).attr('stroke-width',2.5);
bd.append('line').attr('x1',10).attr('x2',10).attr('y1',1105).attr('y2',1472).attr('stroke-width',2.5);
bd.append('line').attr('x1',586).attr('x2',586).attr('y1',1105).attr('y2',1472).attr('stroke-width',2.5);
bd.append('line').attr('x1',586).attr('x2',1101).attr('y1',1106).attr('y2',1106).attr('stroke-width',2);
bd.append('line').attr('x1',1100).attr('x2',1100).attr('y1',1105).attr('y2',1472).attr('stroke-width',2);
</script>
</body></html>
